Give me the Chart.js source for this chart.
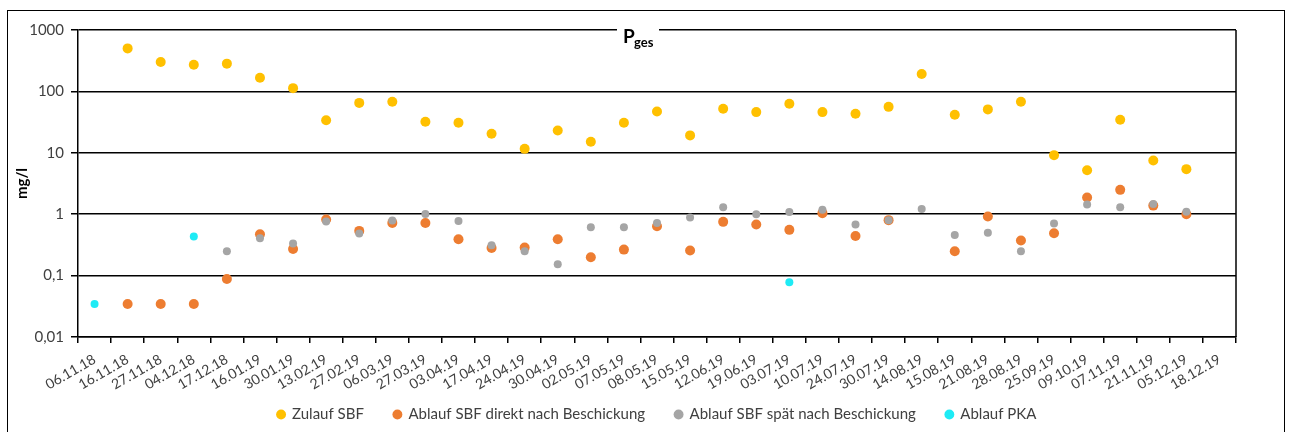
<!DOCTYPE html>
<html>
<head>
<meta charset="utf-8">
<script src="https://cdn.jsdelivr.net/npm/chart.js@4/dist/chart.umd.min.js"></script>
<style>
  html, body { margin: 0; padding: 0; background: #fff; }
  #wrap { width: 1290px; height: 432px; position: relative; }
</style>
</head>
<body>
<div id="wrap"><canvas id="pChart"></canvas></div>
<script>
const dates = ['06.11.18', '16.11.18', '27.11.18', '04.12.18', '17.12.18', '16.01.19', '30.01.19',
  '13.02.19', '27.02.19', '06.03.19', '27.03.19', '03.04.19', '17.04.19', '24.04.19', '30.04.19',
  '02.05.19', '07.05.19', '08.05.19', '15.05.19', '12.06.19', '19.06.19', '03.07.19', '10.07.19',
  '24.07.19', '30.07.19', '14.08.19', '15.08.19', '21.08.19', '28.08.19', '25.09.19', '09.10.19',
  '07.11.19', '21.11.19', '05.12.19', '18.12.19'];

const zulaufSBF = [null, 502, 301, 272, 283, 167, 113, 34, 65, 68, 32, 30.8, 20.4, 11.6, 23.1,
  15.1, 30.8, 47.2, 19.2, 52.2, 46, 63, 46, 43.2, 56, 192, 41.7, 50.9, 68, 9.16, 5.2, 34.5,
  7.5, 5.42, null];

const ablaufDirekt = [null, 0.0345, 0.0345, 0.0345, 0.088, 0.472, 0.272, 0.818, 0.535, 0.722,
  0.72, 0.391, 0.282, 0.286, 0.391, 0.199, 0.265, 0.637, 0.256, 0.75, 0.679, 0.556, 1.04,
  0.443, 0.80, null, 0.249, 0.916, 0.372, 0.49, 1.87, 2.49, 1.38, 1.0, null];

const ablaufSpaet = [null, null, null, null, 0.249, 0.406, 0.333, 0.758, 0.484, 0.789, 1.01,
  0.778, 0.313, 0.249, 0.153, 0.614, 0.614, 0.72, 0.883, 1.30, 1.0, 1.09, 1.18, 0.679, 0.80,
  1.22, 0.46, 0.497, 0.249, 0.705, 1.44, 1.30, 1.47, 1.10, null];

const ablaufPKA = [0.0345, null, null, 0.432, null, null, null, null, null, null, null, null,
  null, null, null, null, null, null, null, null, null, 0.0778, null, null, null, null, null,
  null, null, null, null, null, null, null, null];

const yTicks = [0.01, 0.1, 1, 10, 100, 1000];

const FONT = 'Lato, "Noto Sans", sans-serif';
const TXT = '#404040';

function series(label, data, color, radius, order) {
  return {
    label: label,
    data: data,
    showLine: false,
    pointStyle: 'circle',
    pointRadius: radius,
    pointHoverRadius: radius,
    pointBorderWidth: 0,
    backgroundColor: color,
    borderColor: color,
    order: order
  };
}

// frame, plot border and the "P ges" title sitting on the top gridline
const decor = {
  id: 'decor',
  beforeInit(chart) {
    const fit = chart.legend.fit;
    chart.legend.fit = function () {
      fit.call(this);
      this.height = 35;
    };
  },
  afterLayout(chart) {
    // legend uses labels.padding for both gaps and top offset, pull it up a bit
    const lg = chart.legend;
    lg.top -= 20;
    lg.left += 12;
    lg.right += 12;
  },
  afterDraw(chart) {
    const ctx = chart.ctx;
    const a = chart.chartArea;
    ctx.save();
    ctx.strokeStyle = '#000';
    ctx.lineWidth = 1;
    ctx.strokeRect(7.5, 10.5, 1277, 440);
    ctx.lineWidth = 1.5;
    ctx.beginPath();
    ctx.moveTo(a.right, a.top);
    ctx.lineTo(a.right, a.bottom);
    ctx.stroke();
    ctx.fillStyle = '#fff';
    ctx.fillRect(617, 22, 42, 14);
    ctx.fillStyle = '#000';
    ctx.textBaseline = 'alphabetic';
    ctx.font = 'bold 19px ' + FONT;
    ctx.fillText('P', 623, 43);
    ctx.font = 'bold 13px ' + FONT;
    ctx.fillText('ges', 634, 47);
    ctx.restore();
  }
};

new Chart(document.getElementById('pChart'), {
  type: 'line',
  data: {
    labels: dates,
    datasets: [
      series('Zulauf SBF', zulaufSBF, '#FFC000', 5, 3),
      series('Ablauf SBF direkt nach Beschickung', ablaufDirekt, '#ED7D31', 5, 2),
      series('Ablauf SBF spät nach Beschickung', ablaufSpaet, '#A5A5A5', 4, 1),
      series('Ablauf PKA', ablaufPKA, '#1EEBF5', 4, 0)
    ]
  },
  options: {
    responsive: true,
    maintainAspectRatio: false,
    animation: false,
    layout: { padding: { top: 30, left: 0, right: 0, bottom: 0 } },
    scales: {
      x: {
        type: 'category',
        offset: true,
        grid: { display: true, offset: true, drawOnChartArea: false, drawTicks: true, tickLength: 6, color: '#000', lineWidth: 1.5 },
        border: { display: true, color: '#000', width: 1.5 },
        ticks: { autoSkip: false, minRotation: 30, maxRotation: 30, padding: 8, color: TXT, font: { family: FONT, size: 14 } },
        afterFit(s) { s.height = 60; }
      },
      y: {
        type: 'logarithmic',
        min: 0.01,
        max: 1000,
        afterBuildTicks(s) { s.ticks = yTicks.map(v => ({ value: v })); },
        grid: { color: '#000', lineWidth: 1.5, drawTicks: true, tickLength: 7, tickColor: '#000' },
        border: { display: true, color: '#000', width: 1.5 },
        ticks: {
          padding: 7,
          color: TXT,
          font: { family: FONT, size: 15 },
          callback: v => String(v).replace('.', ',')
        },
        title: { display: true, text: 'mg/l', color: '#000', font: { family: FONT, size: 15, weight: 'bold' }, padding: { top: 13, bottom: 0 } },
        afterFit(s) { s.width = 78; }
      },
      y2: {
        type: 'linear',
        position: 'right',
        display: true,
        grid: { display: false },
        border: { display: false },
        ticks: { display: false },
        afterFit(s) { s.width = 54; }
      }
    },
    plugins: {
      legend: {
        position: 'bottom',
        labels: {
          usePointStyle: true,
          boxWidth: 7,
          boxHeight: 7,
          padding: 30,
          color: TXT,
          font: { family: FONT, size: 15 },
          sort: (a, b) => a.datasetIndex - b.datasetIndex
        }
      },
      tooltip: { enabled: false }
    }
  },
  plugins: [decor]
});
</script>
</body>
</html>
